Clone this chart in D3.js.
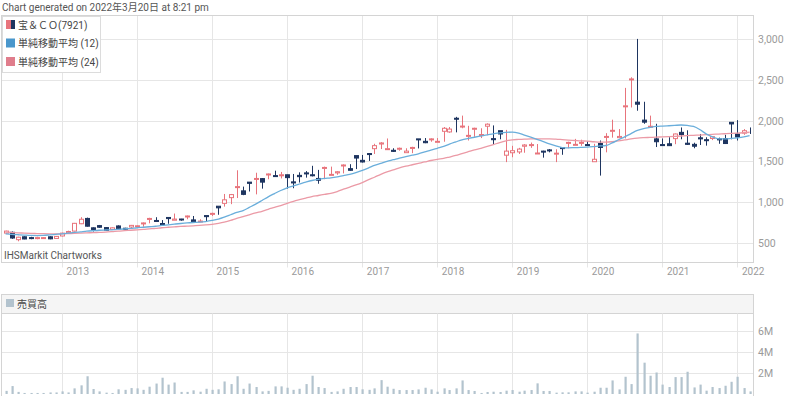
<!DOCTYPE html>
<html>
<head>
<meta charset="utf-8">
<script src="https://cdn.jsdelivr.net/npm/d3@7/dist/d3.min.js"></script>
<style>
    body { margin: 0; background: #fff; }
    svg { display: block; font-family: Roboto, "Noto Sans CJK JP", sans-serif; }
</style>
</head>
<body>
<svg id="chart" width="800" height="396"></svg>
<script>
/**
 * Data (monthly candles, Apr 2012 - Mar 2022).
 */
const firstMonth = new Date(2012, 3, 1);

const open = [620, 630, 540, 575, 565, 555, 560, 575, 555, 585, 625, 645, 735, 800, 685, 712, 688, 665, 708, 680,
    695, 702, 745, 800, 775, 738, 812, 778, 793, 822, 782, 768, 835, 850, 950, 985, 1055, 1180, 1138, 1245,
    1285, 1288, 1345, 1325, 1325, 1335, 1248, 1328, 1358, 1335, 1290, 1425, 1340, 1358, 1455, 1410, 1570, 1512, 1595, 1655,
    1712, 1652, 1635, 1650, 1606, 1663, 1775, 1745, 1772, 1745, 1868, 1860, 2028, 1930, 1810, 1895, 1828, 1930, 1778, 1875,
    1575, 1605, 1615, 1685, 1705, 1594, 1625, 1640, 1588, 1668, 1732, 1698, 1732, 1705, 1495, 1718, 1800, 1880, 1790, 2170,
    2500, 2225, 2005, 1925, 1775, 1705, 1715, 1778, 1855, 1722, 1708, 1788, 1765, 1780, 1775, 1778, 1978, 1835, 1845];
const high = [650, 640, 575, 580, 575, 575, 572, 580, 585, 625, 650, 745, 815, 810, 690, 720, 695, 690, 715, 685,
    720, 715, 750, 808, 815, 780, 805, 860, 795, 835, 830, 790, 828, 870, 935, 1100, 1100, 1390, 1190, 1240,
    1360, 1295, 1350, 1385, 1370, 1335, 1345, 1365, 1380, 1445, 1395, 1435, 1435, 1380, 1462, 1465, 1548, 1578, 1598, 1715,
    1735, 1780, 1660, 1668, 1660, 1678, 1772, 1785, 1782, 1785, 1920, 1920, 2045, 2060, 1935, 1912, 1905, 1965, 1940, 1840,
    1885, 1690, 1665, 1710, 1730, 1712, 1630, 1650, 1648, 1670, 1740, 1775, 1765, 1745, 1715, 1755, 1845, 2010, 1895, 2400,
    2530, 3000, 2230, 2060, 1960, 1780, 1795, 1840, 1915, 1880, 1728, 1835, 1795, 1808, 1790, 1825, 1962, 2005, 1895, 1915];
const low = [615, 550, 520, 545, 545, 545, 550, 545, 550, 580, 620, 640, 730, 700, 640, 685, 650, 660, 665, 665,
    675, 690, 698, 740, 760, 722, 735, 788, 772, 790, 745, 762, 762, 830, 845, 945, 975, 1050, 1085, 1130,
    1095, 1165, 1280, 1315, 1290, 1165, 1170, 1240, 1300, 1315, 1225, 1280, 1335, 1335, 1352, 1385, 1405, 1485, 1505, 1590,
    1650, 1645, 1615, 1630, 1615, 1600, 1658, 1722, 1740, 1740, 1740, 1850, 1855, 1905, 1755, 1800, 1785, 1820, 1700, 1770,
    1490, 1550, 1590, 1605, 1665, 1595, 1545, 1610, 1490, 1580, 1660, 1700, 1690, 1695, 1510, 1325, 1610, 1790, 1795, 1780,
    2160, 2120, 1960, 1910, 1675, 1690, 1688, 1710, 1770, 1700, 1660, 1700, 1692, 1760, 1715, 1712, 1770, 1755, 1825, 1835];
const close = [645, 560, 570, 548, 558, 565, 565, 550, 580, 620, 640, 740, 790, 705, 665, 692, 655, 685, 672, 670,
    715, 710, 745, 800, 768, 728, 798, 792, 790, 830, 752, 768, 822, 862, 930, 1028, 1092, 1190, 1095, 1230,
    1290, 1245, 1345, 1320, 1335, 1300, 1235, 1312, 1352, 1328, 1268, 1425, 1340, 1372, 1455, 1390, 1540, 1492, 1590, 1692,
    1725, 1655, 1622, 1660, 1625, 1670, 1765, 1728, 1775, 1745, 1905, 1895, 2020, 1932, 1818, 1905, 1828, 1955, 1765, 1835,
    1625, 1630, 1650, 1700, 1705, 1602, 1622, 1635, 1600, 1662, 1732, 1708, 1732, 1700, 1525, 1670, 1805, 1880, 1805, 2180,
    2510, 2200, 1980, 1930, 1740, 1695, 1692, 1835, 1828, 1708, 1685, 1775, 1756, 1802, 1770, 1718, 1958, 1798, 1875, 1910];

// Moving averages as drawn (12 and 24 months)
const ma12 = [612, 605, 600, 596, 592, 590, 592, 598, 605, 612, 620, 628, 636, 644, 650, 655, 658, 661, 666, 672,
    678, 686, 692, 698, 704, 714, 722, 730, 738, 745, 750, 754, 762, 775, 792, 815, 845, 875, 897, 935,
    975, 1020, 1065, 1105, 1142, 1175, 1200, 1222, 1245, 1265, 1280, 1290, 1298, 1310, 1325, 1339, 1360, 1388, 1420, 1450,
    1475, 1500, 1520, 1540, 1558, 1575, 1592, 1615, 1638, 1660, 1682, 1710, 1738, 1764, 1780, 1795, 1810, 1825, 1837, 1848,
    1855, 1857, 1845, 1822, 1796, 1770, 1742, 1715, 1690, 1668, 1665, 1668, 1670, 1673, 1680, 1688, 1694, 1725, 1764, 1800,
    1840, 1878, 1900, 1915, 1927, 1932, 1936, 1940, 1945, 1940, 1927, 1890, 1837, 1800, 1776, 1775, 1780, 1788, 1800, 1816];
const ma24 = [632, 628, 624, 620, 617, 615, 613, 612, 612, 612, 614, 617, 620, 623, 626, 629, 632, 638, 645, 650,
    655, 661, 666, 672, 678, 686, 692, 697, 702, 706, 710, 714, 720, 728, 740, 754, 775, 800, 822, 845,
    868, 888, 912, 935, 958, 985, 1010, 1030, 1050, 1068, 1081, 1095, 1108, 1130, 1158, 1185, 1210, 1240, 1275, 1305,
    1340, 1370, 1395, 1420, 1440, 1458, 1475, 1492, 1510, 1525, 1535, 1552, 1572, 1595, 1618, 1640, 1660, 1682, 1705, 1730,
    1750, 1764, 1768, 1771, 1775, 1776, 1776, 1776, 1772, 1766, 1760, 1755, 1750, 1747, 1740, 1735, 1735, 1740, 1750, 1762,
    1775, 1785, 1790, 1793, 1796, 1800, 1803, 1806, 1810, 1815, 1818, 1822, 1826, 1830, 1834, 1838, 1842, 1846, 1850, 1856];

// Volume, millions of shares
const volume = [0.3, 0.76, 0.2, 0.1, 0.1, 0.1, 0.1, 0.15, 0.15, 0.25, 0.15, 0.54, 0.83, 1.7, 0.48, 0.25, 0.13, 0.1, 0.45, 0.4,
    0.57, 0.54, 0.4, 0.7, 1.0, 1.56, 0.9, 1.1, 0.2, 0.2, 0.35, 0.22, 0.5, 0.4, 0.45, 1.2, 0.95, 1.7, 0.5, 1.0,
    0.67, 0.25, 0.3, 0.73, 0.73, 0.6, 0.4, 0.5, 0.95, 1.75, 0.67, 0.57, 0.2, 0.25, 0.5, 0.67, 0.67, 0.45, 0.4, 0.54,
    1.33, 0.7, 0.5, 0.38, 0.38, 0.38, 0.44, 0.6, 0.44, 0.22, 0.54, 0.38, 0.54, 1.3, 0.38, 0.29, 0.1, 0.19, 0.22, 0.19,
    0.32, 0.38, 0.22, 0.32, 0.38, 1.02, 0.29, 0.29, 0.13, 0.16, 0.16, 0.25, 0.25, 0.13, 0.22, 0.6, 0.6, 1.3, 0.44, 1.65,
    0.95, 5.8, 3.0, 1.75, 2.06, 0.9, 0.67, 1.62, 1.62, 2.13, 0.63, 0.9, 0.32, 0.67, 0.57, 0.79, 1.17, 1.65, 0.57, 0.25];

const priceTicks = [500, 1000, 1500, 2000, 2500, 3000];
const volumeTicks = [2, 4, 6];
const yearTicks = d3.range(2013, 2023);
const titleText = 'Chart generated on 2022年3月20日 at 8:21 pm';
const legendLabels = ['宝＆ＣＯ(7921)', '単純移動平均 (12)', '単純移動平均 (24)'];
const volumeLabel = '売買高';
const creditText = 'IHSMarkit Chartworks';

/**
 * Visual configs.
 */
const plot = { left: 1.5, right: 753.5, top: 15.5, bottom: 262.5 },
    volPlot = { top: 294.5, header: 313.5, bottom: 394 };

const colors = {
    up: '#e8747c',
    down: '#1e3560',
    ma12: '#6aaedb',
    ma24: '#eb9aa6',
    volume: '#b3c3ce',
    grid: '#e6e6e6',
    frame: '#d4d4d4',
    axisText: '#9a9a9a',
    text: '#444'
};

const data = close.map((c, i) => ({
    date: d3.timeMonth.offset(firstMonth, i),
    open: open[i], high: high[i], low: low[i], close: c,
    ma12: ma12[i], ma24: ma24[i], volume: volume[i]
}));

/**
 * Scales.
 */
const xScale = d3.scaleTime()
    .domain([new Date(2012, 2, 12), new Date(2022, 2, 20)])
    .range([plot.left, plot.right]);
const yScale = d3.scaleLinear().domain([260, 3287]).range([plot.bottom, plot.top]);
const vScale = d3.scaleLinear().domain([0, 7.71]).range([volPlot.bottom, volPlot.header]);

const svg = d3.select('#chart');

/**
 * Title.
 */
svg.append('text')
    .attr('x', 2).attr('y', 10.5)
    .attr('font-size', 10).attr('fill', '#555')
    .text(titleText);

/**
 * Price panel: grid, frame, axes.
 */
const price = svg.append('g').attr('class', 'price');

price.append('g').selectAll('line').data(priceTicks).join('line')
    .attr('x1', plot.left).attr('x2', plot.right)
    .attr('y1', d => Math.round(yScale(d)) + 0.5).attr('y2', d => Math.round(yScale(d)) + 0.5)
    .attr('stroke', colors.grid);

price.append('g').selectAll('line').data(yearTicks).join('line')
    .attr('x1', d => Math.round(xScale(new Date(d, 0, 1))) + 0.5)
    .attr('x2', d => Math.round(xScale(new Date(d, 0, 1))) + 0.5)
    .attr('y1', plot.top).attr('y2', plot.bottom + 5)
    .attr('stroke', colors.grid);

price.append('rect')
    .attr('x', plot.left).attr('y', plot.top)
    .attr('width', plot.right - plot.left).attr('height', plot.bottom - plot.top)
    .attr('fill', 'none').attr('stroke', colors.frame);

price.append('g').selectAll('text').data(priceTicks).join('text')
    .attr('x', 758).attr('y', d => yScale(d) + 4)
    .attr('font-size', 10.5).attr('fill', colors.axisText)
    .text(d3.format(','));

price.append('g').selectAll('text').data(yearTicks).join('text')
    .attr('x', d => xScale(new Date(d, 0, 1)) + 4.5).attr('y', 274.5)
    .attr('font-size', 10).attr('fill', colors.axisText)
    .text(d => d);

price.append('text')
    .attr('x', 4).attr('y', 259)
    .attr('font-size', 10).attr('fill', '#555')
    .text(creditText);

/**
 * Candles.
 */
const bodyW = 4;
const candles = price.append('g').selectAll('g').data(data).join('g')
    .attr('transform', d => 'translate(' + Math.round(xScale(d.date)) + ',0)');

candles.append('line')
    .attr('x1', 0.5).attr('x2', 0.5)
    .attr('y1', d => yScale(d.high)).attr('y2', d => yScale(d.low))
    .attr('stroke', d => d.close >= d.open ? colors.up : colors.down);

candles.append('rect')
    .attr('x', -bodyW / 2 + 0.5)
    .attr('y', d => yScale(Math.max(d.open, d.close)))
    .attr('width', bodyW)
    .attr('height', d => Math.max(1, Math.abs(yScale(d.open) - yScale(d.close))))
    .attr('fill', d => d.close >= d.open ? '#fff' : colors.down)
    .attr('stroke', d => d.close >= d.open ? colors.up : colors.down);

/**
 * Moving averages.
 */
const line = key => d3.line().x(d => xScale(d.date)).y(d => yScale(d[key])).curve(d3.curveMonotoneX);

price.append('path').datum(data)
    .attr('d', line('ma24'))
    .attr('fill', 'none').attr('stroke', colors.ma24).attr('stroke-width', 1.3);
price.append('path').datum(data)
    .attr('d', line('ma12'))
    .attr('fill', 'none').attr('stroke', colors.ma12).attr('stroke-width', 1.3);

/**
 * Legend.
 */
const legend = svg.append('g').attr('class', 'legend');
legend.append('rect')
    .attr('x', 2.5).attr('y', 16.5).attr('width', 98).attr('height', 56)
    .attr('fill', '#fff').attr('stroke', '#dcdcdc');

const legendRows = legend.selectAll('g.row').data(legendLabels).join('g')
    .attr('class', 'row')
    .attr('transform', (d, i) => 'translate(6,' + (20 + i * 18.5) + ')');

legendRows.filter((d, i) => i === 0).call(g => {
    g.append('rect').attr('width', 5).attr('height', 9).attr('fill', colors.up);
    g.append('rect').attr('x', 5).attr('width', 4).attr('height', 9).attr('fill', colors.down);
});
legendRows.filter((d, i) => i > 0).append('rect')
    .attr('width', 9).attr('height', 9)
    .attr('fill', (d, i) => i === 0 ? '#4a97cc' : '#e07d8c');

legendRows.append('text')
    .attr('x', 12).attr('y', 8.5)
    .attr('font-size', 10).attr('fill', colors.text)
    .text(d => d);

/**
 * Volume panel.
 */
const vol = svg.append('g').attr('class', 'volume');

vol.append('rect')
    .attr('x', plot.left).attr('y', volPlot.top)
    .attr('width', plot.right - plot.left).attr('height', volPlot.header - volPlot.top)
    .attr('fill', '#f5f5f5').attr('stroke', colors.frame);

vol.append('rect')
    .attr('x', 6).attr('y', 299).attr('width', 8).attr('height', 8)
    .attr('fill', colors.volume);
vol.append('text')
    .attr('x', 17).attr('y', 307.5)
    .attr('font-size', 10).attr('fill', colors.text)
    .text(volumeLabel);

vol.append('g').selectAll('line').data(volumeTicks).join('line')
    .attr('x1', plot.left).attr('x2', plot.right)
    .attr('y1', d => Math.round(vScale(d)) + 0.5).attr('y2', d => Math.round(vScale(d)) + 0.5)
    .attr('stroke', colors.grid);

vol.append('g').selectAll('line').data(yearTicks).join('line')
    .attr('x1', d => Math.round(xScale(new Date(d, 0, 1))) + 0.5)
    .attr('x2', d => Math.round(xScale(new Date(d, 0, 1))) + 0.5)
    .attr('y1', volPlot.header).attr('y2', volPlot.bottom)
    .attr('stroke', colors.grid);

vol.append('g').selectAll('line').data([plot.left, plot.right]).join('line')
    .attr('x1', d => d).attr('x2', d => d)
    .attr('y1', volPlot.header).attr('y2', 396)
    .attr('stroke', colors.frame);

vol.append('g').selectAll('text').data(volumeTicks).join('text')
    .attr('x', 758).attr('y', d => vScale(d) + 4)
    .attr('font-size', 10.5).attr('fill', colors.axisText)
    .text(d => d + 'M');

vol.append('g').selectAll('rect').data(data).join('rect')
    .attr('x', d => Math.round(xScale(d.date)) - 0.5)
    .attr('y', d => vScale(d.volume))
    .attr('width', 2.2)
    .attr('height', d => vScale(0) - vScale(d.volume))
    .attr('fill', colors.volume);
</script>
</body>
</html>
